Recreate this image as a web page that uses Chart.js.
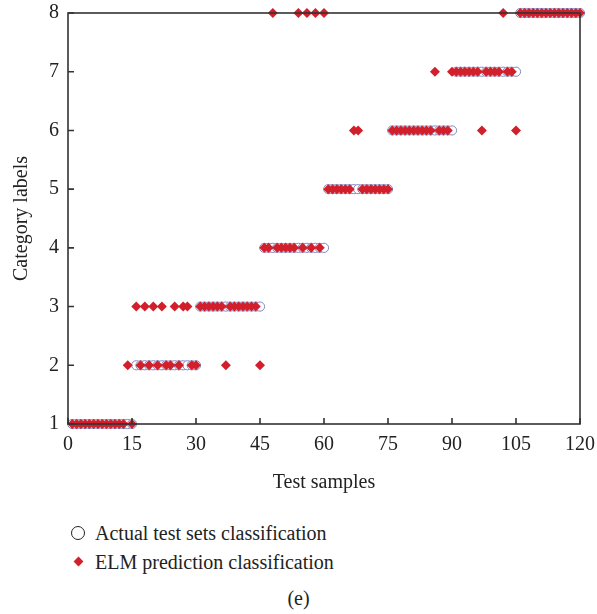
<!DOCTYPE html>
<html>
<head>
<meta charset="utf-8">
<title>ELM classification results</title>
<script src="https://cdn.jsdelivr.net/npm/chart.js@4"></script>
<style>
    body { margin: 0; background: #fff; font-family: "Liberation Serif", "DejaVu Serif", serif; color: #222; }
    #wrap { position: relative; width: 597px; height: 614px; }
    #chart-box { position: absolute; left: 0; top: 0; width: 597px; height: 500px; }
    .legend-row { position: absolute; left: 70px; font-size: 20px; line-height: 22px; }
    .legend-row .mark { position: absolute; }
    .legend-row span.txt { position: absolute; left: 25px; top: 0; white-space: nowrap; }
    .mk-circle { width: 14px; height: 14px; border: 1.5px solid #222; border-radius: 50%; box-sizing: border-box; left: 1px; top: 4px; }
    .mk-diamond { width: 7px; height: 7px; background: #d1202b; transform: rotate(45deg); left: 4.5px; top: 7px; }
    #caption { position: absolute; left: 0; width: 597px; top: 587px; text-align: center; font-size: 20px; }
</style>
</head>
<body>
<div id="wrap">
    <div id="chart-box"><canvas id="elm-chart" width="597" height="500"></canvas></div>
    <div class="legend-row" style="top:522px"><div class="mark mk-circle"></div><span class="txt">Actual test sets classification</span></div>
    <div class="legend-row" style="top:551px"><div class="mark mk-diamond"></div><span class="txt">ELM prediction classification</span></div>
    <div id="caption">(e)</div>
</div>
<script>
// test sample numbers 1..120
const samples = Array.from({ length: 120 }, (_, i) => i + 1);

// true class of each test sample (15 per class)
const actualClass = [
    1, 1, 1, 1, 1, 1, 1, 1, 1, 1, 1, 1, 1, 1, 1,
    2, 2, 2, 2, 2, 2, 2, 2, 2, 2, 2, 2, 2, 2, 2,
    3, 3, 3, 3, 3, 3, 3, 3, 3, 3, 3, 3, 3, 3, 3,
    4, 4, 4, 4, 4, 4, 4, 4, 4, 4, 4, 4, 4, 4, 4,
    5, 5, 5, 5, 5, 5, 5, 5, 5, 5, 5, 5, 5, 5, 5,
    6, 6, 6, 6, 6, 6, 6, 6, 6, 6, 6, 6, 6, 6, 6,
    7, 7, 7, 7, 7, 7, 7, 7, 7, 7, 7, 7, 7, 7, 7,
    8, 8, 8, 8, 8, 8, 8, 8, 8, 8, 8, 8, 8, 8, 8
];

// class predicted by the ELM model
const predictedClass = [
    1, 1, 1, 1, 1, 1, 1, 1, 1, 1, 1, 1, 1, 2, 1,
    3, 2, 3, 2, 3, 2, 3, 2, 2, 3, 2, 3, 3, 2, 2,
    3, 3, 3, 3, 3, 3, 2, 3, 3, 3, 3, 3, 3, 3, 2,
    4, 4, 8, 4, 4, 4, 4, 4, 8, 4, 8, 4, 8, 4, 8,
    5, 5, 5, 5, 5, 5, 6, 6, 5, 5, 5, 5, 5, 5, 5,
    6, 6, 6, 6, 6, 6, 6, 6, 6, 6, 7, 6, 6, 6, 7,
    7, 7, 7, 7, 7, 7, 6, 7, 7, 7, 7, 8, 7, 7, 6,
    8, 8, 8, 8, 8, 8, 8, 8, 8, 8, 8, 8, 8, 8, 8
];

const xTicks = [0, 15, 30, 45, 60, 75, 90, 105, 120];
const yTicks = [1, 2, 3, 4, 5, 6, 7, 8];

const AXIS_COLOR = '#333';
const FONT_FAMILY = '"Liberation Serif", "DejaVu Serif", serif';
const FONT_SIZE = 20;

// box around the plot + short inward tick marks
const frameTicks = {
    id: 'frameTicks',
    afterDraw(chart) {
        const { ctx, chartArea: a, scales } = chart;
        ctx.save();
        ctx.strokeStyle = AXIS_COLOR;
        ctx.lineWidth = 1.6;
        ctx.strokeRect(a.left, a.top, a.right - a.left, a.bottom - a.top);
        ctx.beginPath();
        xTicks.forEach(v => {
            const px = scales.x.getPixelForValue(v);
            ctx.moveTo(px, a.bottom);
            ctx.lineTo(px, a.bottom - 6);
        });
        yTicks.forEach(v => {
            const py = scales.y.getPixelForValue(v);
            ctx.moveTo(a.left, py);
            ctx.lineTo(a.left + 6, py);
        });
        ctx.stroke();
        ctx.restore();
    }
};

const toPoints = (ys) => samples.map((s, i) => ({ x: s, y: ys[i] }));

new Chart(document.getElementById('elm-chart'), {
    type: 'scatter',
    data: {
        datasets: [
            {
                label: 'ELM prediction classification',
                data: toPoints(predictedClass),
                pointStyle: 'rectRot',
                pointRadius: 5,
                backgroundColor: '#d1202b',
                borderColor: '#d1202b',
                borderWidth: 0,
                order: 0
            },
            {
                label: 'Actual test sets classification',
                data: toPoints(actualClass),
                pointStyle: 'circle',
                pointRadius: 4.6,
                backgroundColor: '#ffffff',
                borderColor: '#8487c0',
                borderWidth: 1,
                order: 1
            }
        ]
    },
    options: {
        responsive: false,
        animation: false,
        clip: false,
        layout: { padding: { left: 0, right: 17, top: 13, bottom: 0 } },
        plugins: {
            legend: { display: false },
            tooltip: { enabled: false }
        },
        scales: {
            x: {
                type: 'linear',
                min: 0,
                max: 120,
                afterBuildTicks: (s) => { s.ticks = xTicks.map(v => ({ value: v })); },
                afterFit: (s) => { s.height = 76; s.paddingLeft = 0; s.paddingRight = 0; },
                grid: { display: false, drawTicks: false },
                border: { display: false },
                ticks: { color: '#222', padding: 9, maxRotation: 0, font: { family: FONT_FAMILY, size: FONT_SIZE } },
                title: {
                    display: true,
                    text: 'Test samples',
                    color: '#222',
                    padding: { top: 0, bottom: 5 },
                    font: { family: FONT_FAMILY, size: FONT_SIZE }
                }
            },
            y: {
                type: 'linear',
                min: 1,
                max: 8,
                afterBuildTicks: (s) => { s.ticks = yTicks.map(v => ({ value: v })); },
                afterFit: (s) => { s.width = 68; s.paddingTop = 0; s.paddingBottom = 0; },
                grid: { display: false, drawTicks: false },
                border: { display: false },
                ticks: { color: '#222', padding: 9, font: { family: FONT_FAMILY, size: FONT_SIZE } },
                title: {
                    display: true,
                    text: 'Category labels',
                    color: '#222',
                    padding: { top: 10, bottom: 0 },
                    font: { family: FONT_FAMILY, size: FONT_SIZE }
                }
            }
        }
    },
    plugins: [frameTicks]
});
</script>
</body>
</html>
